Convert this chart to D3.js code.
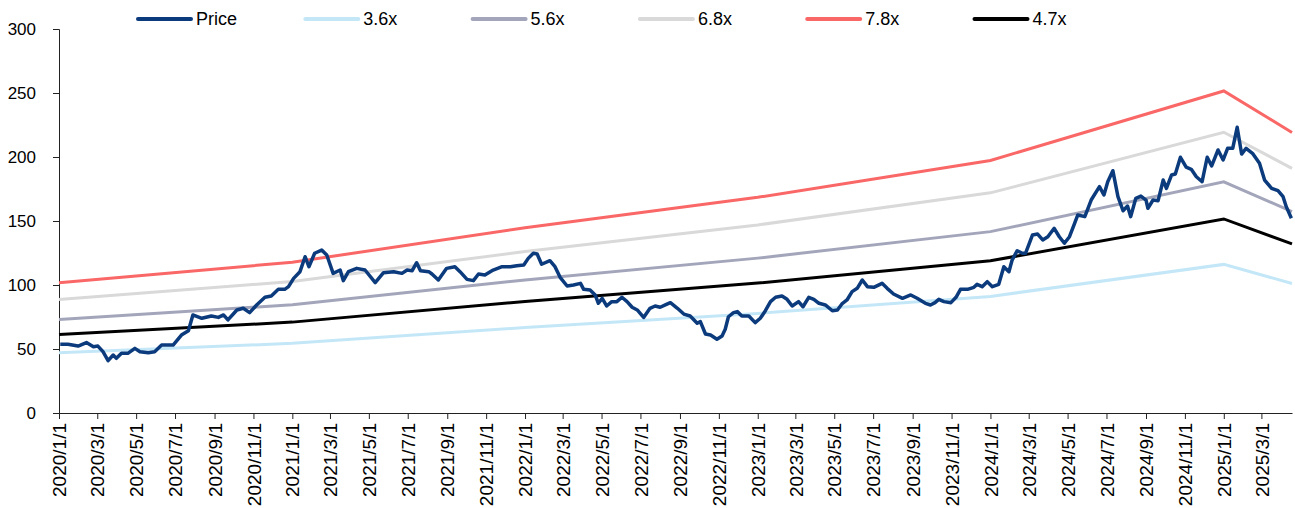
<!DOCTYPE html>
<html>
<head>
<meta charset="utf-8">
<script src="https://cdn.jsdelivr.net/npm/d3@7"></script>
<style>
  body { margin: 0; background: #fff; }
  text { font-family: "Liberation Sans", Arial, sans-serif; }
</style>
</head>
<body>
<div id="chart"></div>
<script>
// ---- data ----
var priceDates = ["2020-01-03","2020-01-15","2020-01-31","2020-02-13","2020-02-24","2020-03-02","2020-03-10","2020-03-18","2020-03-26","2020-03-31",
  "2020-04-08","2020-04-18","2020-04-29","2020-05-07","2020-05-20","2020-05-30","2020-06-10","2020-06-28","2020-07-11","2020-07-22",
  "2020-07-29","2020-08-12","2020-08-27","2020-09-07","2020-09-15","2020-09-22","2020-10-06","2020-10-16","2020-10-26","2020-11-06",
  "2020-11-19","2020-11-29","2020-12-10","2020-12-20","2020-12-26","2021-01-03","2021-01-13","2021-01-21","2021-01-27","2021-02-05",
  "2021-02-16","2021-02-24","2021-03-06","2021-03-17","2021-03-22","2021-03-30","2021-04-12","2021-04-25","2021-05-11","2021-05-24",
  "2021-06-09","2021-06-22","2021-06-30","2021-07-08","2021-07-15","2021-07-21","2021-08-03","2021-08-08","2021-08-18","2021-08-31",
  "2021-09-13","2021-09-21","2021-10-02","2021-10-12","2021-10-20","2021-10-30","2021-11-12","2021-11-26","2021-12-09","2021-12-19",
  "2021-12-30","2022-01-06","2022-01-14","2022-01-20","2022-01-27","2022-02-09","2022-02-17","2022-02-25","2022-03-08","2022-03-18",
  "2022-03-29","2022-04-03","2022-04-13","2022-04-21","2022-04-26","2022-05-02","2022-05-09","2022-05-17","2022-05-25","2022-06-02",
  "2022-06-10","2022-06-18","2022-06-26","2022-07-06","2022-07-16","2022-07-24","2022-08-01","2022-08-09","2022-08-17","2022-08-28",
  "2022-09-07","2022-09-17","2022-09-28","2022-10-03","2022-10-11","2022-10-19","2022-10-29","2022-11-06","2022-11-11","2022-11-16",
  "2022-11-24","2022-11-30","2022-12-07","2022-12-18","2022-12-28","2023-01-05","2023-01-13","2023-01-21","2023-01-29","2023-02-08",
  "2023-02-16","2023-02-24","2023-03-06","2023-03-13","2023-03-22","2023-03-30","2023-04-07","2023-04-17","2023-04-28","2023-05-06",
  "2023-05-13","2023-05-21","2023-05-29","2023-06-06","2023-06-14","2023-06-22","2023-07-02","2023-07-15","2023-07-23","2023-08-02",
  "2023-08-16","2023-08-29","2023-09-08","2023-09-21","2023-09-29","2023-10-06","2023-10-12","2023-10-20","2023-10-31","2023-11-08",
  "2023-11-15","2023-11-26","2023-12-06","2023-12-11","2023-12-19","2023-12-27","2024-01-04","2024-01-14","2024-01-22","2024-01-30",
  "2024-02-04","2024-02-12","2024-02-20","2024-02-25","2024-03-07","2024-03-15","2024-03-23","2024-03-31","2024-04-10","2024-04-18",
  "2024-04-26","2024-05-04","2024-05-12","2024-05-17","2024-05-28","2024-06-07","2024-06-20","2024-06-27","2024-07-03","2024-07-11",
  "2024-07-19","2024-07-27","2024-08-03","2024-08-08","2024-08-16","2024-08-24","2024-09-01","2024-09-04","2024-09-12","2024-09-20",
  "2024-09-28","2024-10-03","2024-10-11","2024-10-17","2024-10-25","2024-11-03","2024-11-11","2024-11-19","2024-11-28","2024-12-06",
  "2024-12-13","2024-12-23","2024-12-31","2025-01-07","2025-01-15","2025-01-22","2025-01-29","2025-02-05","2025-02-15","2025-02-26",
  "2025-03-06","2025-03-17","2025-03-27","2025-04-04","2025-04-09","2025-04-17"];

var priceValues = [53.7,53.7,52.3,55,51.8,52.3,47.9,40.9,45.3,42.7,
  46.6,46.6,50.5,47.9,47.1,47.9,53.1,53.1,60.9,64.3,
  76.6,74,75.8,74.7,76.6,72.7,80.5,81.8,78.4,84.4,
  90.4,91.4,96.6,96.6,98.7,105.2,110.4,122.1,114.3,124.8,
  127.3,123.4,109.1,111.7,103.4,110.4,113,111.7,101.8,109.6,
  110.4,109.1,111.7,111.2,117.4,111.2,110.4,108.6,103.9,113,
  114.3,110.4,104.4,103.4,108.6,107.8,111.7,114.3,114.3,115.1,
  115.6,120.8,124.8,124.2,116.2,119,114.3,106,99.2,100,
  101.3,96.6,96.1,92.2,85.7,89.6,83.6,87,87,90.4,
  87,82.6,80.5,74.7,81.8,83.6,82.6,84.4,86.2,81.8,
  77.3,75.8,70.1,71.4,61.7,60.9,57.6,60.2,65.4,75.2,
  78.4,79.2,75.8,75.8,70.6,74,79.9,87,90.4,91.4,
  88.8,83.6,87,83,90.4,88.8,85.7,84.4,79.9,80.5,
  85.2,88.3,94.8,97.4,103.9,98.7,98.2,101.3,97.4,93,
  89.6,92.2,89.6,85.7,84.4,86.2,88.8,87,86.2,90.4,
  96.6,96.6,98.2,100.5,98.7,102.6,98.7,100.5,114.3,110.4,
  119.5,126.8,124.8,124.8,139.1,139.8,135.2,137.7,144.3,137.7,
  132.6,137.7,148.2,154.7,153.4,166.4,176.8,170.3,180.7,189.3,
  169,158,161.7,153.4,167.7,169.5,166.4,159.9,166.4,165.9,
  182,175.5,185.9,186.7,199.8,192,190.4,184.6,180.7,199.8,
  193,205.5,197.7,206.8,206.8,223.2,202.3,206.8,202.9,195.1,
  182,175.5,173.7,169,161.2,152.1];

// band lines: values at each turning date
var bandDates = ["2020-01-01","2021-01-01","2022-01-01","2023-01-01","2024-01-01","2025-01-01","2025-04-18"];
var band36 = [47.0, 54.4, 66.8, 77.8, 91.1, 116.1, 101.2];
var band56 = [73.1, 84.6, 103.9, 121.0, 141.7, 180.6, 157.4];
var band68 = [88.7, 102.7, 126.1, 146.9, 172.0, 219.3, 191.1];
var band78 = [101.8, 117.8, 144.7, 168.5, 197.3, 251.6, 219.2];
var band47 = [61.3, 71.0, 87.2, 101.5, 118.9, 151.6, 132.1];

var seriesNames = ["Price", "3.6x", "5.6x", "6.8x", "7.8x", "4.7x"];
var seriesColors = ["#0b3b7c", "#c4e7f8", "#a3a6ba", "#d9d9d9", "#fa6767", "#000000"];
var yTicks = [0, 50, 100, 150, 200, 250, 300];
var xStart = "2020-01-01", xEnd = "2025-04-18";

// ---- layout ----
var W = 1295, H = 508;
var margin = {top: 29, right: 3, bottom: 95, left: 59};
var width = W - margin.left - margin.right,
    height = H - margin.top - margin.bottom;

var parse = d3.timeParse("%Y-%m-%d");

var svg = d3.select("#chart")
  .append("svg")
  .attr("width", W)
  .attr("height", H);

var g = svg.append("g")
  .attr("transform", "translate(" + margin.left + "," + margin.top + ")");

var x = d3.scaleTime()
  .domain([parse(xStart), parse(xEnd)])
  .range([0, width]);

var y = d3.scaleLinear()
  .domain([0, 300])
  .range([height, 0]);

// axes
var yAxis = g.append("g")
  .call(d3.axisLeft(y).tickValues(yTicks).tickSize(6).tickPadding(17));
yAxis.selectAll("text").style("font-size", "17px").attr("fill", "#000");
yAxis.selectAll("line, path").attr("stroke", "#222");

var xAxis = g.append("g")
  .attr("transform", "translate(0," + height + ")")
  .call(d3.axisBottom(x)
    .ticks(d3.timeMonth.every(2))
    .tickFormat(d3.timeFormat("%Y/%-m/%-d"))
    .tickSize(6)
    .tickSizeOuter(0));
xAxis.selectAll("line, path").attr("stroke", "#222");
xAxis.selectAll("text")
  .style("font-size", "19px")
  .attr("fill", "#000")
  .attr("text-anchor", "end")
  .attr("transform", "rotate(-90)")
  .attr("x", -10)
  .attr("y", 0)
  .attr("dy", "0.35em");

// lines
var line = d3.line()
  .x(function(d) { return x(d.date); })
  .y(function(d) { return y(d.value); });

function toPoints(dates, values) {
  return dates.map(function(d, i) { return {date: parse(d), value: values[i]}; });
}

var bands = [band36, band56, band68, band78, band47];
bands.forEach(function(vals, i) {
  g.append("path")
    .datum(toPoints(bandDates, vals))
    .attr("fill", "none")
    .attr("stroke", seriesColors[i + 1])
    .attr("stroke-width", 3)
    .attr("d", line);
});

g.append("path")
  .datum(toPoints(priceDates, priceValues))
  .attr("fill", "none")
  .attr("stroke", seriesColors[0])
  .attr("stroke-width", 3.5)
  .attr("stroke-linejoin", "round")
  .attr("d", line);

// legend
var legend = svg.append("g").attr("transform", "translate(138,19)");
var item = legend.selectAll("g")
  .data(seriesNames)
  .enter()
  .append("g")
  .attr("transform", function(d, i) { return "translate(" + (i * 167.3) + ",0)"; });

item.append("line")
  .attr("x1", 0).attr("x2", 53)
  .attr("stroke", function(d, i) { return seriesColors[i]; })
  .attr("stroke-width", 4)
  .attr("stroke-linecap", "round");

item.append("text")
  .attr("x", 58)
  .attr("dy", "0.35em")
  .style("font-size", "18px")
  .text(function(d) { return d; });
</script>
</body>
</html>
